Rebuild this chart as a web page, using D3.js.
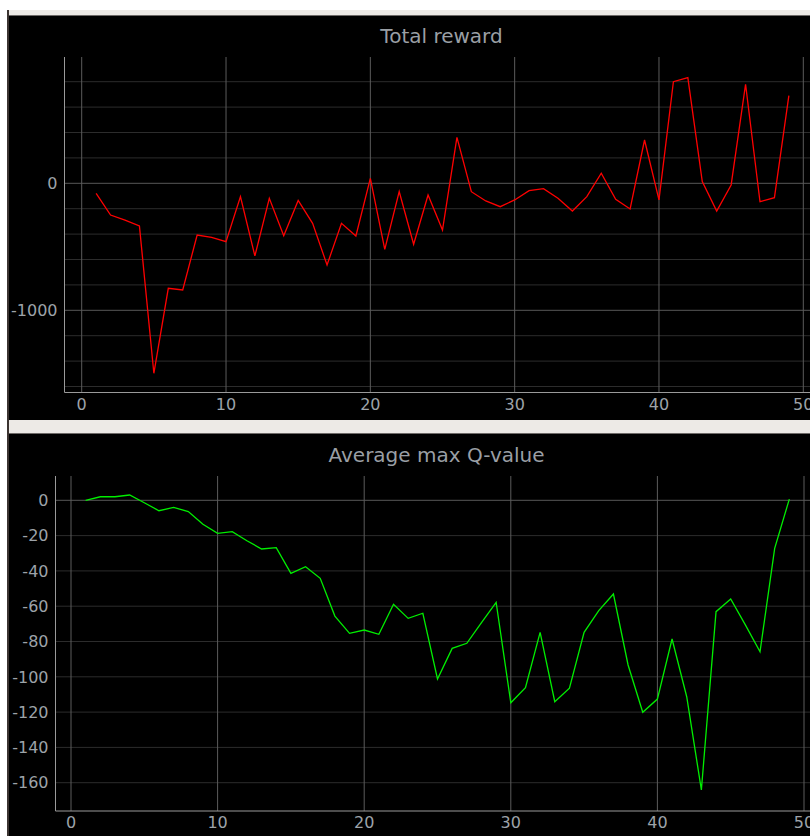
<!DOCTYPE html>
<html>
<head>
<meta charset="utf-8">
<script src="https://cdnjs.cloudflare.com/ajax/libs/d3/7.8.5/d3.min.js"></script>
<style>
    html, body { margin: 0; padding: 0; background: #ffffff; overflow: hidden; }
    svg { display: block; font-family: "DejaVu Sans", sans-serif; }
</style>
</head>
<body>
<div id="chart"></div>
<script>
// Episode numbers and the two series
var episodes = d3.range(1, 50);
var totalReward = [-79, -250, -290, -336, -1496, -827, -840, -407, -425, -460,
    -105, -572, -118, -412, -135, -315, -643, -315, -415, 39,
    -520, -66, -480, -92, -368, 362, -66, -139, -184, -131,
    -58, -42, -118, -218, -105, 79, -126, -202, 341, -131,
    800, 832, 13, -218, -13, 780, -145, -113, 690];
var avgMaxQ = [0, 2, 2, 3, -1.4, -5.9, -4, -6.4, -13.6, -18.7,
    -17.8, -22.9, -27.6, -26.8, -41.4, -37.6, -44.2, -65.6, -75.4, -73.5,
    -75.9, -58.9, -66.9, -64, -101.2, -83.9, -81, -69.3, -57.8, -114.7,
    -106.2, -74.8, -114.1, -106.5, -74.8, -62.5, -53.1, -93.3, -120.1, -112.6,
    -78.6, -111.3, -164.1, -63.1, -55.9, -70.6, -85.8, -27.2, 0.7];

var xTicks = [0, 10, 20, 30, 40, 50];
var rewardLabelTicks = [0, -1000];
var rewardGridTicks = [800, 600, 400, 200, -200, -400, -600, -800, -1200, -1400, -1600];
var qLabelTicks = [0, -20, -40, -60, -80, -100, -120, -140, -160];

var W = 810, H = 836;

function drawPlot(svg, opts) {
    var g = svg.append("g");
    var x = opts.x, y = opts.y, box = opts.box;

    // background grid
    g.selectAll(".minor")
        .data(opts.minorY)
        .enter().append("line")
        .attr("x1", box.left).attr("x2", W)
        .attr("y1", function (d) { return y(d); })
        .attr("y2", function (d) { return y(d); })
        .attr("stroke", "#2c2c2c").attr("stroke-width", 1);

    g.selectAll(".majorY")
        .data(opts.majorY)
        .enter().append("line")
        .attr("x1", box.left).attr("x2", W)
        .attr("y1", function (d) { return y(d); })
        .attr("y2", function (d) { return y(d); })
        .attr("stroke", "#585858").attr("stroke-width", 1);

    g.selectAll(".majorX")
        .data(xTicks)
        .enter().append("line")
        .attr("x1", function (d) { return x(d); })
        .attr("x2", function (d) { return x(d); })
        .attr("y1", box.top).attr("y2", box.bottom)
        .attr("stroke", "#5c5c5c").attr("stroke-width", 1);

    // axis lines
    g.append("line")
        .attr("x1", box.left).attr("x2", box.left)
        .attr("y1", box.top).attr("y2", box.bottom)
        .attr("stroke", "#9a9a9a");
    g.append("line")
        .attr("x1", box.left).attr("x2", W)
        .attr("y1", box.bottom).attr("y2", box.bottom)
        .attr("stroke", "#9a9a9a");

    // tick labels
    g.selectAll(".ylab")
        .data(opts.labelY)
        .enter().append("text")
        .attr("x", box.left - 7)
        .attr("y", function (d) { return y(d); })
        .attr("dy", "0.36em")
        .attr("text-anchor", "end")
        .attr("font-size", 16)
        .attr("fill", "#9da3a9")
        .text(function (d) { return d; });

    g.selectAll(".xlab")
        .data(xTicks)
        .enter().append("text")
        .attr("x", function (d) { return x(d); })
        .attr("y", box.bottom + 17)
        .attr("text-anchor", "middle")
        .attr("font-size", 16)
        .attr("fill", "#9da3a9")
        .text(function (d) { return d; });

    g.append("text")
        .attr("x", opts.titleX)
        .attr("y", opts.titleY)
        .attr("text-anchor", "middle")
        .attr("font-size", 20)
        .attr("fill", "#9a9fa5")
        .text(opts.title);

    var line = d3.line()
        .x(function (d, i) { return x(episodes[i]); })
        .y(function (d) { return y(d); });

    g.append("path")
        .datum(opts.values)
        .attr("d", line)
        .attr("fill", "none")
        .attr("stroke", opts.color)
        .attr("stroke-width", 1.3)
        .attr("stroke-linejoin", "miter");
}

function main() {
    var svg = d3.select("#chart").append("svg")
        .attr("width", W)
        .attr("height", H);

    // window frame
    svg.append("rect").attr("width", W).attr("height", H).attr("fill", "#ffffff");
    svg.append("rect").attr("x", 7).attr("y", 10).attr("width", W - 7).attr("height", H - 10).attr("fill", "#edeae6");
    svg.append("rect").attr("x", 7).attr("y", 10).attr("width", 2).attr("height", H - 10).attr("fill", "#3c3431");

    svg.append("rect").attr("x", 9).attr("y", 15).attr("width", W - 9).attr("height", 405).attr("fill", "#000000");
    svg.append("line").attr("x1", 9).attr("x2", W).attr("y1", 15.5).attr("y2", 15.5).attr("stroke", "#6e6a68");
    svg.append("rect").attr("x", 9).attr("y", 433).attr("width", W - 9).attr("height", H - 433).attr("fill", "#000000");
    svg.append("line").attr("x1", 9).attr("x2", W).attr("y1", 433.5).attr("y2", 433.5).attr("stroke", "#6e6a68");

    // Total reward panel
    drawPlot(svg, {
        x: d3.scaleLinear().domain([0, 50]).range([81.7, 803.3]),
        y: d3.scaleLinear().domain([0, -1000]).range([183.3, 310.3]),
        box: { left: 64.5, top: 57, bottom: 392.5 },
        minorY: rewardGridTicks,
        majorY: rewardLabelTicks,
        labelY: rewardLabelTicks,
        title: "Total reward",
        titleX: 441.5,
        titleY: 43,
        values: totalReward,
        color: "#ff0000"
    });

    // Average max Q-value panel
    drawPlot(svg, {
        x: d3.scaleLinear().domain([0, 50]).range([71, 804]),
        y: d3.scaleLinear().domain([0, -160]).range([500.3, 782.7]),
        box: { left: 55.5, top: 476, bottom: 811 },
        minorY: qLabelTicks.filter(function (d) { return d !== 0; }),
        majorY: [0],
        labelY: qLabelTicks,
        title: "Average max Q-value",
        titleX: 436.5,
        titleY: 462,
        values: avgMaxQ,
        color: "#00ee00"
    });
}

main();
</script>
</body>
</html>
